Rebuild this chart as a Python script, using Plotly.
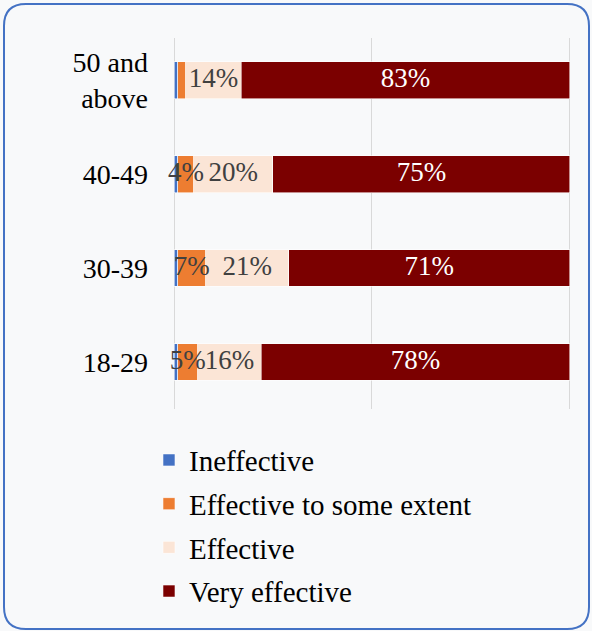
import plotly.graph_objects as go

categories = ["18-29", "30-39", "40-49", "50 and<br>above"]
series_names = ["Ineffective", "Effective to some extent", "Effective", "Very effective"]
ineffective = [1, 1, 1, 1]
some_extent = [5, 7, 4, 2]
effective = [16, 21, 20, 14]
very_effective = [78, 71, 75, 83]
show_label = [
    [False, False, False, False],
    [True, True, True, False],
    [True, True, True, True],
    [True, True, True, True],
]
colors = ["#4472c4", "#ed7d31", "#fbe5d6", "#7b0000"]
text_colors = ["#404040", "#404040", "#404040", "#ffffff"]

W, H = 592, 631
L, R, T, B = 174, 21, 38, 222
pw, ph = W - L - R, H - T - B

all_series = [ineffective, some_extent, effective, very_effective]

fig = go.Figure()
for i, (name, vals) in enumerate(zip(series_names, all_series)):
    fig.add_trace(go.Bar(
        y=categories, x=vals, orientation="h", name=name,
        marker=dict(color=colors[i], line=dict(color="rgba(255,255,255,0.7)", width=0.8)),
        legendgroup=name, hoverinfo="skip",
    ))

# data labels on top of all bars, at the middle of each stacked segment
lab_x, lab_y, lab_t, lab_c = [], [], [], []
for j, cat in enumerate(categories):
    base = 0
    for i, vals in enumerate(all_series):
        if show_label[i][j]:
            lab_x.append(base + vals[j] / 2)
            lab_y.append(cat)
            lab_t.append(f"{vals[j]}%")
            lab_c.append(text_colors[i])
        base += vals[j]
fig.add_trace(go.Scatter(
    x=lab_x, y=lab_y, text=lab_t, mode="text", textposition="middle center",
    textfont=dict(family="Liberation Serif", size=27, color=lab_c),
    showlegend=False, hoverinfo="skip", cliponaxis=False,
))

# rounded border in paper coordinates
def px_x(p):
    return (p - L) / pw

def px_y(p):
    return (H - B - p) / ph

x0, x1, y0, y1, r = 4, 589, 4, 629, 22
path = (
    f"M {px_x(x0 + r)} {px_y(y0)} L {px_x(x1 - r)} {px_y(y0)} "
    f"Q {px_x(x1)} {px_y(y0)} {px_x(x1)} {px_y(y0 + r)} "
    f"L {px_x(x1)} {px_y(y1 - r)} Q {px_x(x1)} {px_y(y1)} {px_x(x1 - r)} {px_y(y1)} "
    f"L {px_x(x0 + r)} {px_y(y1)} Q {px_x(x0)} {px_y(y1)} {px_x(x0)} {px_y(y1 - r)} "
    f"L {px_x(x0)} {px_y(y0 + r)} Q {px_x(x0)} {px_y(y0)} {px_x(x0 + r)} {px_y(y0)} Z"
)

fig.update_layout(
    width=W, height=H,
    margin=dict(l=L, r=R, t=T, b=B, pad=0),
    barmode="stack", bargap=0.61,
    paper_bgcolor="#f8f9fa", plot_bgcolor="rgba(0,0,0,0)",
    font=dict(family="Liberation Serif", color="#000000"),
    showlegend=True,
    legend=dict(
        orientation="v", traceorder="grouped", x=-0.063, y=-0.069,
        xanchor="left", yanchor="top",
        font=dict(family="Liberation Serif", size=29, color="#000000"),
        tracegroupgap=3, bgcolor="rgba(0,0,0,0)",
    ),
    xaxis=dict(range=[0, 100.3], tickvals=[0, 50, 100], showgrid=True, gridcolor="#d9d9d9", gridwidth=1.3,
               showticklabels=False, zeroline=True, zerolinecolor="#d9d9d9", zerolinewidth=1.3,
               showline=False, fixedrange=True),
    yaxis=dict(showgrid=False, showline=False, ticks="", ticklabelstandoff=25, range=[-0.5, 3.45],
               tickfont=dict(family="Liberation Serif", size=28, color="#000000")),
    shapes=[dict(type="path", xref="paper", yref="paper", path=path,
                 line=dict(color="#4472c4", width=2), fillcolor="rgba(0,0,0,0)", layer="above")],
)

fig.write_html("out.html", config={"displayModeBar": False},
               post_script="document.body.style.margin='0';document.body.style.overflow='hidden';")
